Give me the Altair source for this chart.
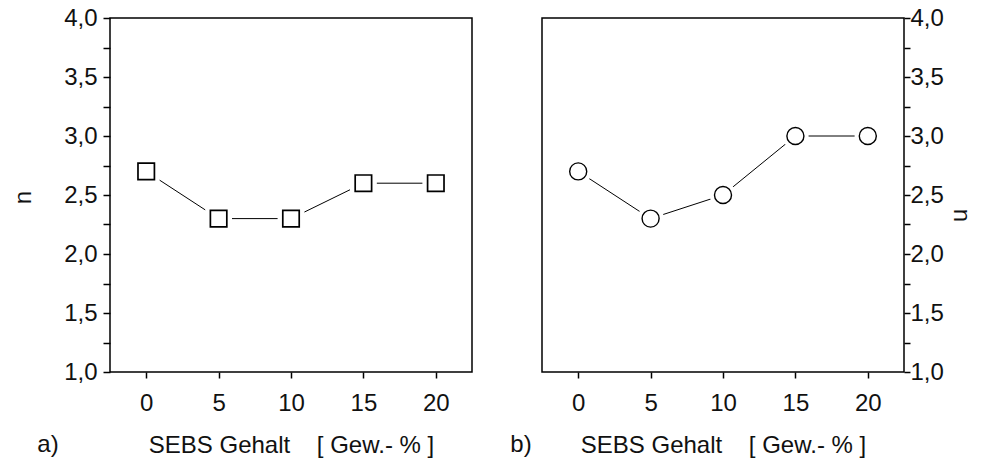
import altair as alt
import pandas as pd

# SEBS content in weight percent and the measured exponent n for both blends
sebs = [0, 5, 10, 15, 20]
n_a = [2.7, 2.3, 2.3, 2.6, 2.6]
n_b = [2.7, 2.3, 2.5, 3.0, 3.0]

y_ticks = [1.0 + 0.25 * i for i in range(13)]
x_ticks = [0, 5, 10, 15, 20]
NBSP = "\u00a0"
x_title = "SEBS Gehalt" + NBSP * 4 + "[ Gew.- % ]"

FONT = "Liberation Sans"
W, H = 362, 354

x_scale = alt.Scale(domain=[-2.5, 22.5], nice=False, zero=False)
y_scale = alt.Scale(domain=[1.0, 4.0], nice=False, zero=False)

# German decimal comma, labels only on every second tick
y_label_expr = ("datum.value * 2 == round(datum.value * 2) ? "
                "replace(format(datum.value, '.1f'), '.', ',') : ''")


def x_axis():
    return alt.Axis(values=x_ticks, title=x_title, grid=False, domain=False,
                    tickSize=6, tickColor="black", tickWidth=1.5,
                    labelFont=FONT, labelFontSize=24, labelColor="#111",
                    labelBaseline="alphabetic", labelPadding=32,
                    titleFont=FONT, titleFontSize=24, titleFontWeight="normal",
                    titleColor="#111", titleBaseline="alphabetic", titleY=80)


def y_axis(orient):
    left = orient == "left"
    return alt.Axis(orient=orient, values=y_ticks, labelExpr=y_label_expr,
                    title="n", grid=False, domain=False,
                    tickSize=7 if left else 6, tickColor="black", tickWidth=1.5,
                    labelFont=FONT, labelFontSize=24, labelColor="#111",
                    labelPadding=6 if left else 0, labelBaseline="middle",
                    titleFont=FONT, titleFontSize=24, titleFontWeight="normal",
                    titleColor="#111", titleAngle=-90 if left else 90,
                    titleBaseline="middle", titleAlign="center",
                    titleX=-87 if left else 56, titleY=179 if left else 197)


def panel(values, shape, size, halo, stroke_w, orient, tag, tag_x):
    df = pd.DataFrame({"sebs": sebs, "n": values})
    base = alt.Chart(df).encode(
        x=alt.X("sebs:Q", scale=x_scale, axis=x_axis()),
        y=alt.Y("n:Q", scale=y_scale, axis=y_axis(orient)),
    )
    line = base.mark_line(color="black", strokeWidth=1)
    gap = base.mark_point(shape=shape, size=halo, filled=True, fill="white",
                          opacity=1, strokeWidth=0)
    pts = base.mark_point(shape=shape, size=size, filled=False, fill="white",
                          fillOpacity=1, stroke="black", strokeWidth=stroke_w,
                          opacity=1)
    label = alt.Chart(pd.DataFrame({"t": [tag]})).mark_text(
        font=FONT, fontSize=24, color="#111", baseline="alphabetic",
        align="center"
    ).encode(x=alt.value(tag_x), y=alt.value(434), text="t:N")
    return alt.layer(line, gap, pts, label).properties(width=W, height=H)


left = panel(n_a, "square", 270, 720, 1.7, "left", "a)", -62)
right = panel(n_b, "circle", 290, 700, 1.4, "right", "b)", -21)

chart = alt.hconcat(left, right, spacing=70, bounds="flush").configure(
    background="white",
    padding={"left": 10, "top": 5, "right": 8, "bottom": 0},
    view=alt.ViewConfig(stroke="black", strokeWidth=1.5),
)

chart.save("out.html", embed_options={"renderer": "svg", "actions": False})
